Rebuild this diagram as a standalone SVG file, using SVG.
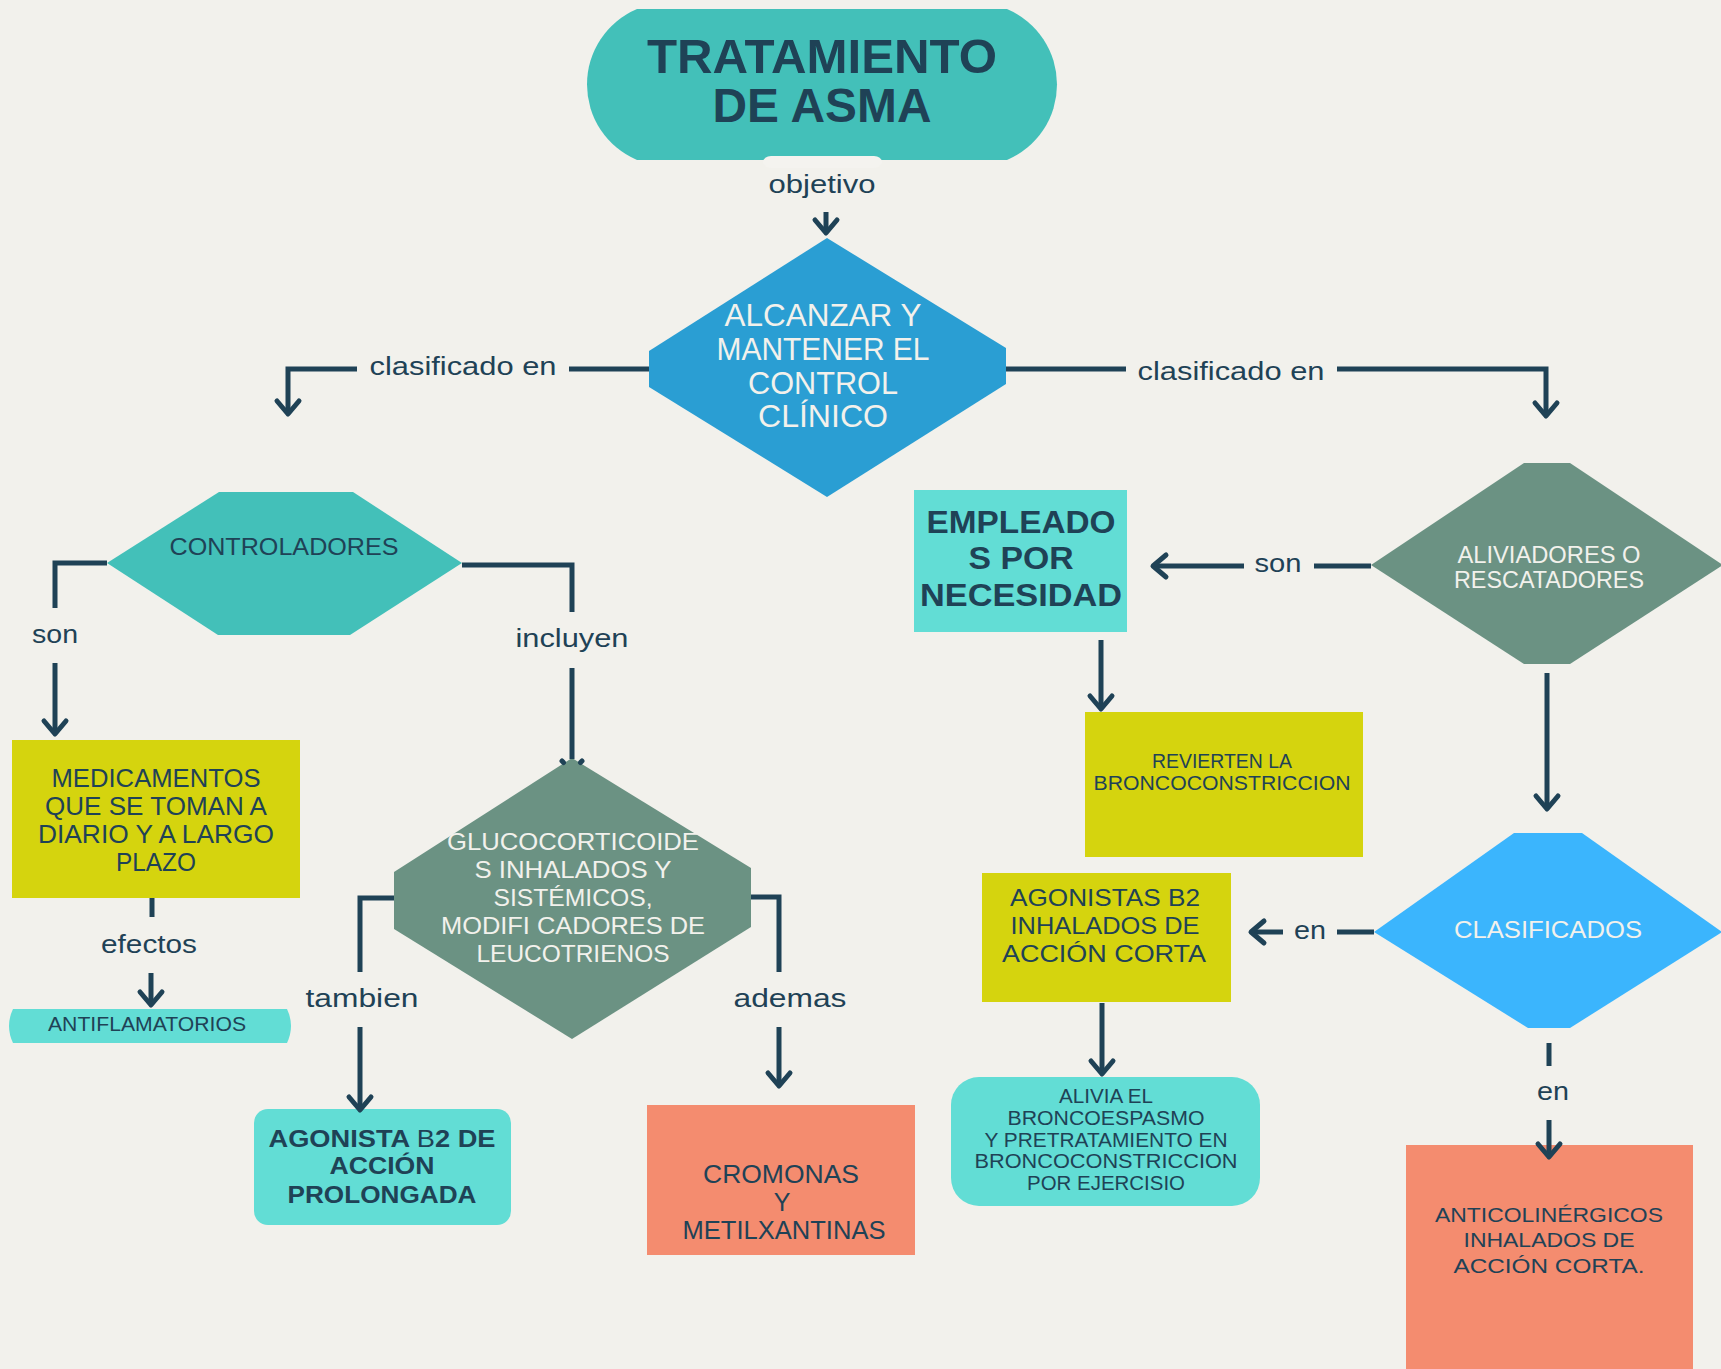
<svg xmlns="http://www.w3.org/2000/svg" width="1721" height="1369" viewBox="0 0 1721 1369">
<style>
text{font-family:"Liberation Sans","Noto Sans",sans-serif;text-anchor:middle;}
.dk{fill:#1F4256;}
.lt{fill:#F2F1EC;}
.b{font-weight:700;}
.lbl{font-size:26px;fill:#1F4256;}
.c{fill:none;stroke:#1F4256;stroke-width:5;}
.yl{fill:#D5D40E;}
.cy{fill:#62DDD5;}
.sa{fill:#F48C6F;}
.gg{fill:#6B9283;}
</style>
<defs>
<marker id="ah" markerUnits="userSpaceOnUse" markerWidth="30" markerHeight="30" viewBox="-20 -15 30 30" refX="0" refY="0" orient="auto" overflow="visible">
<path d="M-13,-11 L0,0 L-13,11" fill="none" stroke="#1F4256" stroke-width="5" stroke-linecap="round" stroke-linejoin="round"/>
</marker>
</defs>
<rect x="0" y="0" width="1721" height="1369" fill="#F2F1EC"/>

<g id="n-title">
<path d="M637,9 L1007,9 A82,82 0 0 1 1007,160 L637,160 A82,82 0 0 1 637,9 Z" fill="#43C0B9"/>
<text class="dk b" x="822" y="73" font-size="48" textLength="350" lengthAdjust="spacingAndGlyphs">TRATAMIENTO</text>
<text class="dk b" x="822" y="122" font-size="48" textLength="219" lengthAdjust="spacingAndGlyphs">DE ASMA</text>
</g>

<g id="n-objetivo">
<polygon points="827,238 1006,348 1006,384 827,497 649,387 649,351" fill="#2A9ED3"/>
<text class="lt" font-size="31" x="823" y="326" textLength="197" lengthAdjust="spacingAndGlyphs">ALCANZAR Y</text>
<text class="lt" font-size="31" x="823" y="360" textLength="213" lengthAdjust="spacingAndGlyphs">MANTENER EL</text>
<text class="lt" font-size="31" x="823" y="394" textLength="150" lengthAdjust="spacingAndGlyphs">CONTROL</text>
<text class="lt" font-size="31" x="823" y="427" textLength="130" lengthAdjust="spacingAndGlyphs">CLÍNICO</text>
</g>

<g id="n-controladores">
<polygon points="219,492 353,492 462,563 350,635 218,635 107,563" fill="#43C0B9"/>
<text class="dk" font-size="24" x="284" y="555" textLength="229" lengthAdjust="spacingAndGlyphs">CONTROLADORES</text>
</g>

<g id="n-medicamentos">
<rect class="yl" x="12" y="740" width="288" height="158"/>
<text class="dk" font-size="25" x="156" y="787" textLength="209" lengthAdjust="spacingAndGlyphs">MEDICAMENTOS</text>
<text class="dk" font-size="25" x="156" y="815" textLength="222" lengthAdjust="spacingAndGlyphs">QUE SE TOMAN A</text>
<text class="dk" font-size="25" x="156" y="843" textLength="236" lengthAdjust="spacingAndGlyphs">DIARIO Y A LARGO</text>
<text class="dk" font-size="25" x="156" y="871" textLength="80" lengthAdjust="spacingAndGlyphs">PLAZO</text>
</g>

<g id="n-antiflamatorios">
<path class="cy" d="M13,1009 L287,1009 A40,40 0 0 1 287,1043 L13,1043 A40,40 0 0 1 13,1009 Z"/>
<text class="dk" font-size="20" x="147" y="1031" textLength="198" lengthAdjust="spacingAndGlyphs">ANTIFLAMATORIOS</text>
</g>

<g id="n-glucocorticoides">
<polygon class="gg" points="572,758 751,868 751,927 572,1039 394,929 394,872"/>
<text class="lt" font-size="24" x="573" y="850" textLength="252" lengthAdjust="spacingAndGlyphs">GLUCOCORTICOIDE</text>
<text class="lt" font-size="24" x="573" y="878" textLength="197" lengthAdjust="spacingAndGlyphs">S INHALADOS Y</text>
<text class="lt" font-size="24" x="573" y="906" textLength="159" lengthAdjust="spacingAndGlyphs">SISTÉMICOS,</text>
<text class="lt" font-size="24" x="573" y="934" textLength="264" lengthAdjust="spacingAndGlyphs">MODIFI CADORES DE</text>
<text class="lt" font-size="24" x="573" y="962" textLength="193" lengthAdjust="spacingAndGlyphs">LEUCOTRIENOS</text>
</g>

<g id="n-agonista-prolongada">
<rect class="cy" x="254" y="1109" width="257" height="116" rx="14"/>
<text class="dk b" font-size="24" x="382" y="1147" textLength="227" lengthAdjust="spacingAndGlyphs">AGONISTA <tspan font-weight="400">B</tspan>2 DE</text>
<text class="dk b" font-size="24" x="382" y="1174" textLength="105" lengthAdjust="spacingAndGlyphs">ACCIÓN</text>
<text class="dk b" font-size="24" x="382" y="1203" textLength="189" lengthAdjust="spacingAndGlyphs">PROLONGADA</text>
</g>

<g id="n-cromonas">
<rect class="sa" x="647" y="1105" width="268" height="150"/>
<text class="dk" font-size="25" x="781" y="1183" textLength="156" lengthAdjust="spacingAndGlyphs">CROMONAS</text>
<text class="dk" font-size="25" x="782" y="1211">Y</text>
<text class="dk" font-size="25" x="784" y="1239" textLength="203" lengthAdjust="spacingAndGlyphs">METILXANTINAS</text>
</g>

<g id="n-empleados">
<rect class="cy" x="914" y="490" width="213" height="142"/>
<text class="dk b" font-size="32" x="1021" y="533" textLength="189" lengthAdjust="spacingAndGlyphs">EMPLEADO</text>
<text class="dk b" font-size="32" x="1021" y="569" textLength="105" lengthAdjust="spacingAndGlyphs">S POR</text>
<text class="dk b" font-size="32" x="1021" y="606" textLength="202" lengthAdjust="spacingAndGlyphs">NECESIDAD</text>
</g>

<g id="n-revierten">
<rect class="yl" x="1085" y="712" width="278" height="145"/>
<text class="dk" font-size="20" x="1222" y="768" textLength="140" lengthAdjust="spacingAndGlyphs">REVIERTEN LA</text>
<text class="dk" font-size="20" x="1222" y="790" textLength="257" lengthAdjust="spacingAndGlyphs">BRONCOCONSTRICCION</text>
</g>

<g id="n-aliviadores">
<polygon class="gg" points="1524,463 1570,463 1723,565 1570,664 1524,664 1371,565"/>
<text class="lt" font-size="23" x="1549" y="563" textLength="183" lengthAdjust="spacingAndGlyphs">ALIVIADORES O</text>
<text class="lt" font-size="23" x="1549" y="588" textLength="190" lengthAdjust="spacingAndGlyphs">RESCATADORES</text>
</g>

<g id="n-clasificados">
<polygon points="1514,833 1582,833 1722,932 1570,1028 1528,1028 1374,932" fill="#3BB5FD"/>
<text class="lt" font-size="24" x="1548" y="938" textLength="188" lengthAdjust="spacingAndGlyphs">CLASIFICADOS</text>
</g>

<g id="n-agonistas-corta">
<rect class="yl" x="982" y="873" width="249" height="129"/>
<text class="dk" font-size="24" x="1105" y="906" textLength="190" lengthAdjust="spacingAndGlyphs">AGONISTAS B2</text>
<text class="dk" font-size="24" x="1105" y="934" textLength="189" lengthAdjust="spacingAndGlyphs">INHALADOS DE</text>
<text class="dk" font-size="24" x="1104" y="962" textLength="204" lengthAdjust="spacingAndGlyphs">ACCIÓN CORTA</text>
</g>

<g id="n-alivia">
<rect class="cy" x="951" y="1077" width="309" height="129" rx="28"/>
<text class="dk" font-size="20" x="1106" y="1103" textLength="94" lengthAdjust="spacingAndGlyphs">ALIVIA EL</text>
<text class="dk" font-size="20" x="1106" y="1125" textLength="197" lengthAdjust="spacingAndGlyphs">BRONCOESPASMO</text>
<text class="dk" font-size="20" x="1106" y="1147" textLength="243" lengthAdjust="spacingAndGlyphs">Y PRETRATAMIENTO EN</text>
<text class="dk" font-size="20" x="1106" y="1168" textLength="263" lengthAdjust="spacingAndGlyphs">BRONCOCONSTRICCION</text>
<text class="dk" font-size="20" x="1106" y="1190" textLength="158" lengthAdjust="spacingAndGlyphs">POR EJERCISIO</text>
</g>

<g id="n-anticolinergicos">
<rect class="sa" x="1406" y="1145" width="287" height="230"/>
<text class="dk" font-size="21" x="1549" y="1222" textLength="228" lengthAdjust="spacingAndGlyphs">ANTICOLINÉRGICOS</text>
<text class="dk" font-size="21" x="1549" y="1247" textLength="171" lengthAdjust="spacingAndGlyphs">INHALADOS DE</text>
<text class="dk" font-size="21" x="1549" y="1273" textLength="191" lengthAdjust="spacingAndGlyphs">ACCIÓN CORTA.</text>
</g>

<g id="connectors">
<rect x="763" y="156" width="119" height="12" rx="8" fill="#F4F3EF"/>
<path class="c" d="M826,212 V233" marker-end="url(#ah)"/>
<path class="c" d="M649,369 H569"/>
<path class="c" d="M357,369 H288 V414" marker-end="url(#ah)"/>
<path class="c" d="M1006,369 H1126"/>
<path class="c" d="M1337,369 H1546 V416" marker-end="url(#ah)"/>
<path class="c" d="M107,563 H55 V608"/>
<path class="c" d="M55,663 V734" marker-end="url(#ah)"/>
<path class="c" d="M462,565 H572 V612"/>
<path class="c" d="M572,668 V759"/>
<path d="M562,761 l1.5,1.5 M582,761 l-1.5,1.5" fill="none" stroke="#1F4256" stroke-width="5" stroke-linecap="round"/>
<path class="c" d="M152,898 V917"/>
<path class="c" d="M151,973 V1005" marker-end="url(#ah)"/>
<path class="c" d="M394,898 H360 V972"/>
<path class="c" d="M360,1027 V1110" marker-end="url(#ah)"/>
<path class="c" d="M751,897 H779 V972"/>
<path class="c" d="M779,1027 V1086" marker-end="url(#ah)"/>
<path class="c" d="M1371,566 H1314"/>
<path class="c" d="M1244,566 H1153" marker-end="url(#ah)"/>
<path class="c" d="M1101,640 V709" marker-end="url(#ah)"/>
<path class="c" d="M1547,673 V809" marker-end="url(#ah)"/>
<path class="c" d="M1374,932 H1337"/>
<path class="c" d="M1283,932 H1251" marker-end="url(#ah)"/>
<path class="c" d="M1102,1003 V1074" marker-end="url(#ah)"/>
<path class="c" d="M1549,1043 V1066"/>
<path class="c" d="M1549,1120 V1157" marker-end="url(#ah)"/>
<text class="lbl" x="822" y="193" textLength="107" lengthAdjust="spacingAndGlyphs">objetivo</text>
<text class="lbl" x="463" y="375" textLength="187" lengthAdjust="spacingAndGlyphs">clasificado en</text>
<text class="lbl" x="1231" y="380" textLength="187" lengthAdjust="spacingAndGlyphs">clasificado en</text>
<text class="lbl" x="55" y="643" textLength="46" lengthAdjust="spacingAndGlyphs">son</text>
<text class="lbl" x="572" y="647" textLength="113" lengthAdjust="spacingAndGlyphs">incluyen</text>
<text class="lbl" x="149" y="953" textLength="96" lengthAdjust="spacingAndGlyphs">efectos</text>
<text class="lbl" x="362" y="1007" textLength="113" lengthAdjust="spacingAndGlyphs">tambien</text>
<text class="lbl" x="790" y="1007" textLength="113" lengthAdjust="spacingAndGlyphs">ademas</text>
<text class="lbl" x="1278" y="572" textLength="47" lengthAdjust="spacingAndGlyphs">son</text>
<text class="lbl" x="1310" y="939" textLength="32" lengthAdjust="spacingAndGlyphs">en</text>
<text class="lbl" x="1553" y="1100" textLength="32" lengthAdjust="spacingAndGlyphs">en</text>
</g>
</svg>
